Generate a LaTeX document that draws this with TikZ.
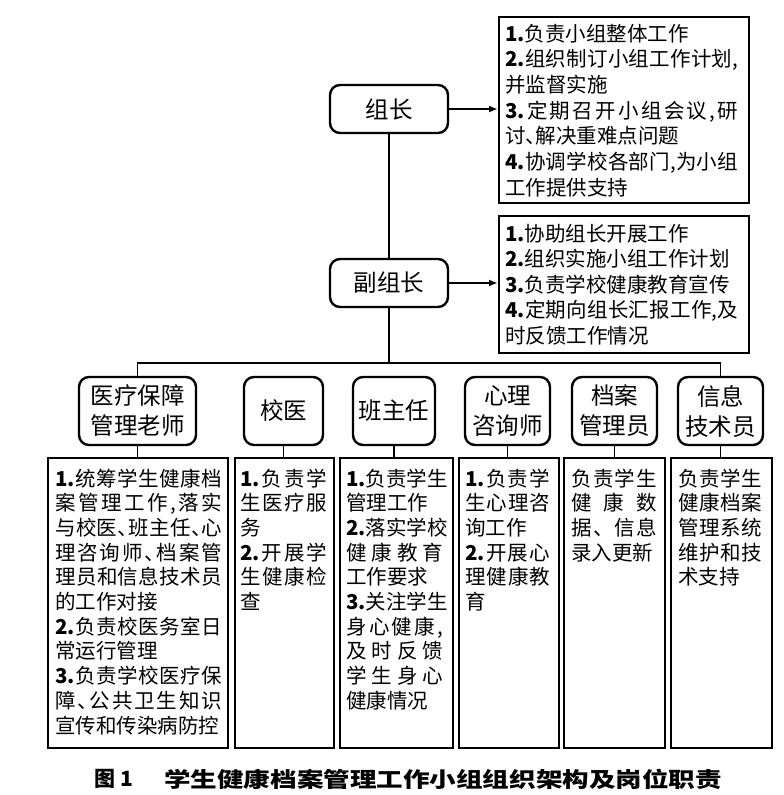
\documentclass[tikz,border=0pt]{standalone}
\usepackage{fontspec}
\usepackage{graphicx}
\setmainfont{Noto Sans CJK SC}
\usetikzlibrary{arrows.meta}
\newcommand\nm[1]{\textbf{#1}}
\newcommand\dn{\makebox[0.5em][l]{、}}
\ExplSyntaxOn
\NewDocumentCommand\jl{mm}{
  \hbox~to~#1{\tl_map_inline:nn{#2}{{##1}\hskip~0pt~plus~1fil}\unskip}
}
\ExplSyntaxOff
\newcommand\bodyfont{\fontsize{20.5}{24.7}\selectfont}
\newcommand\rolefont{\fontsize{23.5}{30}\selectfont}
\newcommand\capfont{\fontsize{21}{21}\selectfont\bfseries}
\newcommand\tlines[5]{%
  \foreach \myline [count=\kk] in {#5} {
    \node[txt] (#1-\kk) at ({#2},{#3+(\kk-1)*#4}) {\myline};
  }}
\tikzset{
  role/.style={draw, line width=2.4pt, rounded corners=10pt, inner sep=0pt,
    align=center, font=\rolefont},
  duty/.style={draw, line width=2.4pt, inner sep=0pt, anchor=north west},
  conn/.style={line width=1.8pt},
  arr/.style={conn, -{Latex[length=9pt,width=7pt]}},
  txt/.style={anchor=base west, inner sep=0pt, font=\bodyfont},
}
\begin{document}
\begin{tikzpicture}[x=1pt,y=-1pt]
\useasboundingbox (0,0) rectangle (784,795);
% top roles
\node[role, minimum width=118pt, minimum height=48pt] (zz) at (389,109) {组长};
\node[role, minimum width=118pt, minimum height=48pt] (fz) at (389,283) {副组长};
% top duty boxes
\node[duty, minimum width=250pt, minimum height=186pt] (A) at (498,16) {};
\node[duty, minimum width=250pt, minimum height=137pt] (B) at (498,215) {};
\tlines{a}{505}{41}{25.7}{
 {\nm{1.}负责小组整体工作},
 {\jl{233pt}{{\nm{2.}}组织制订小组工作计划,}},
 {并监督实施},
 {\jl{233pt}{{\nm{3.}}定期召开小组会议,研}},
 {讨\dn 解决重难点问题},
 {\jl{233pt}{{\nm{4.}}协调学校各部门,为小组}},
 {工作提供支持}}
\tlines{b}{505}{241}{25.5}{
 {\nm{1.}协助组长开展工作},
 {\nm{2.}组织实施小组工作计划},
 {\nm{3.}负责学校健康教育宣传},
 {\jl{233pt}{{\nm{4.}}定期向组长汇报工作,及}},
 {时反馈工作情况}}
\draw[arr] (zz.east) -- (A.west |- zz.east);
\draw[arr] (fz.east) -- (B.west |- fz.east);
% bottom roles
\node[role, minimum width=117pt, minimum height=68pt] (r1) at (137.5,411) {医疗保障\\管理老师};
\node[role, minimum width=79pt, minimum height=68pt] (r2) at (283.5,411) {校医};
\node[role, minimum width=82pt, minimum height=68pt] (r3) at (394,411) {班主任};
\node[role, minimum width=85pt, minimum height=68pt] (r4) at (507.5,411) {心理\\咨询师};
\node[role, minimum width=85pt, minimum height=68pt] (r5) at (614.5,411) {档案\\管理员};
\node[role, minimum width=85pt, minimum height=68pt] (r6) at (720.5,411) {信息\\技术员};
% tree
\coordinate (hl) at (138,363);
\draw[conn] (zz.south) -- (fz.north);
\draw[conn] (fz.south) -- (fz.south |- hl);
\draw[conn] (r1.north) -- (r1.north |- hl) -- (r6.north |- hl) -- (r6.north);
% bottom duty boxes
\node[duty, minimum width=180pt, minimum height=290pt] (d1) at (47,457) {};
\node[duty, minimum width=99pt, minimum height=290pt] (d2) at (234,457) {};
\node[duty, minimum width=113pt, minimum height=290pt] (d3) at (339,457) {};
\node[duty, minimum width=100pt, minimum height=290pt] (d4) at (458,457) {};
\node[duty, minimum width=101pt, minimum height=290pt] (d5) at (563,457) {};
\node[duty, minimum width=101pt, minimum height=290pt] (d6) at (670,457) {};
\foreach \i in {1,...,6} {
  \draw[conn] (r\i.south) -- (r\i.south |- d\i.north);
}
\tlines{t1}{55}{486}{24.7}{
 {\jl{167pt}{{\nm{1.}}统筹学生健康档}},
 {\jl{167pt}{案管理工作,落实}},
 {\jl{167pt}{与校医\dn 班主任\dn 心}},
 {\jl{167pt}{理咨询师\dn 档案管}},
 {\jl{167pt}{理员和信息技术员}},
 {的工作对接},
 {\jl{167pt}{{\nm{2.}}负责校医务室日}},
 {常运行管理},
 {\jl{167pt}{{\nm{3.}}负责学校医疗保}},
 {\jl{167pt}{障\dn 公共卫生知识}},
 {宣传和传染病防控}}
\tlines{t2}{240}{486}{24.7}{
 {\jl{87pt}{{\nm{1.}}负责学}},
 {\jl{87pt}{生医疗服}},
 {务},
 {\jl{87pt}{{\nm{2.}}开展学}},
 {\jl{87pt}{生健康检}},
 {查}}
\tlines{t3}{346}{486}{24.7}{
 {\jl{97pt}{{\nm{1.}}负责学生}},
 {管理工作},
 {\jl{97pt}{{\nm{2.}}落实学校}},
 {\jl{97pt}{健康教育}},
 {工作要求},
 {\jl{97pt}{{\nm{3.}}关注学生}},
 {\jl{97pt}{身心健康,}},
 {\jl{97pt}{及时反馈}},
 {\jl{97pt}{学生身心}},
 {健康情况}}
\tlines{t4}{465}{486}{24.7}{
 {\jl{85pt}{{\nm{1.}}负责学}},
 {\jl{85pt}{生心理咨}},
 {询工作},
 {\jl{85pt}{{\nm{2.}}开展心}},
 {\jl{85pt}{理健康教}},
 {育}}
\tlines{t5}{571}{486}{24.7}{
 {\jl{86pt}{负责学生}},
 {\jl{86pt}{健康数}},
 {\jl{86pt}{据、信息}},
 {录入更新}}
\tlines{t6}{678}{486}{24.7}{
 {\jl{84pt}{负责学生}},
 {\jl{84pt}{健康档案}},
 {\jl{84pt}{管理系统}},
 {\jl{84pt}{维护和技}},
 {术支持}}
% caption
\node[anchor=west, inner sep=0pt, font=\capfont] (fig) at (94,779) {图 1};
\node[anchor=west, inner sep=0pt, font=\capfont] (cap) at (164,779)
  {\scalebox{1.265}[1]{学生健康档案管理工作小组组织架构及岗位职责}};
\end{tikzpicture}
\end{document}
